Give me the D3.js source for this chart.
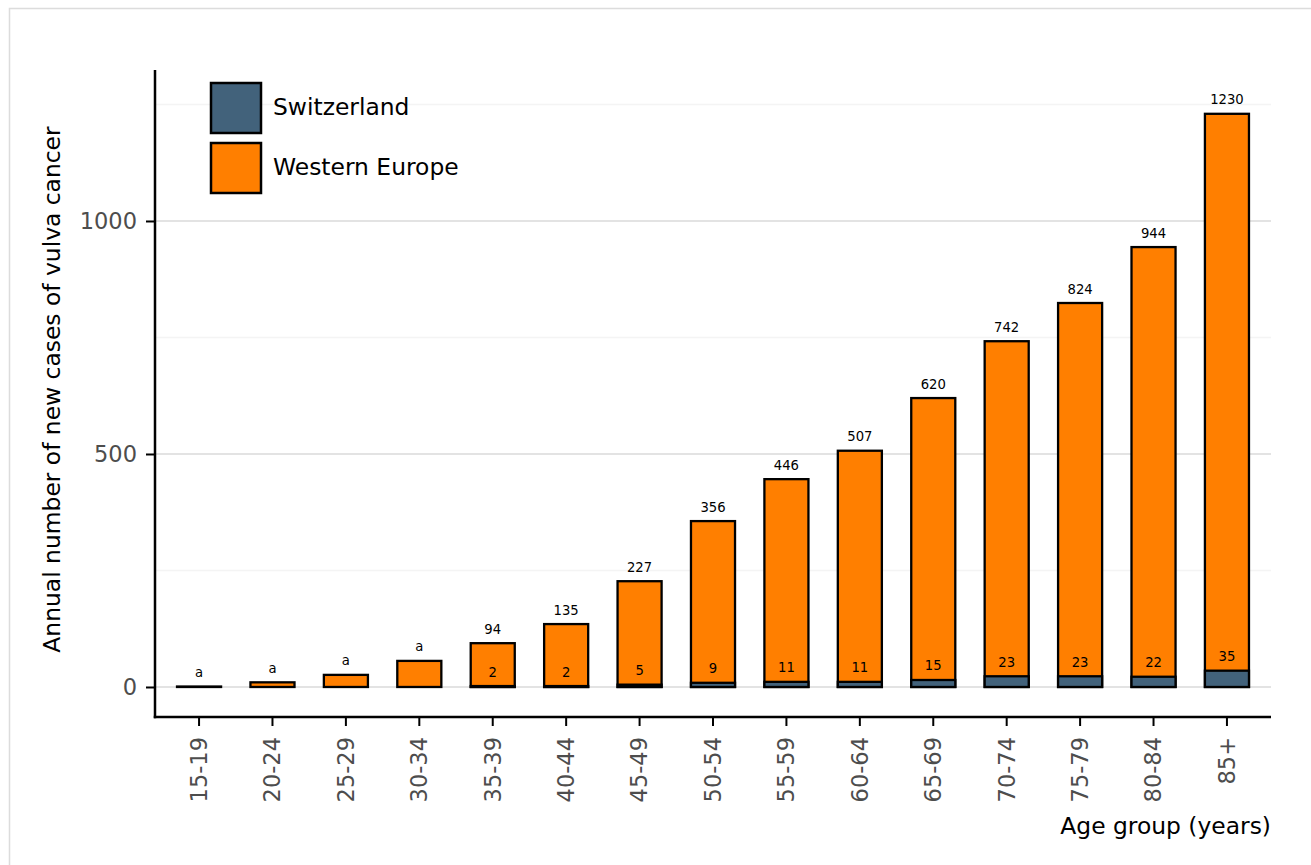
<!DOCTYPE html>
<html>
<head>
<meta charset="utf-8">
<script src="https://cdn.jsdelivr.net/npm/d3@7"></script>
<style>
  body { margin: 0; background: #fff; }
  svg text { font-family: "DejaVu Sans", sans-serif; }
</style>
</head>
<body>
<div id="container"></div>
<script>
// data
var ageGroups = ['15-19', '20-24', '25-29', '30-34', '35-39', '40-44', '45-49', '50-54',
                 '55-59', '60-64', '65-69', '70-74', '75-79', '80-84', '85+'];
var westernEurope = [1, 10, 26, 56, 94, 135, 227, 356, 446, 507, 620, 742, 824, 944, 1230];
var switzerland = [0, 0, 0, 0, 2, 2, 5, 9, 11, 11, 15, 23, 23, 22, 35];
// labels shown above the bars ("a" where the count is suppressed)
var weLabels = ['a', 'a', 'a', 'a', '94', '135', '227', '356', '446', '507', '620', '742', '824', '944', '1230'];
var chLabels = ['', '', '', '', '2', '2', '5', '9', '11', '11', '15', '23', '23', '22', '35'];
var yTicks = [0, 500, 1000];
var yMinorTicks = [250, 750, 1250];
var seriesNames = ['Switzerland', 'Western Europe'];
var seriesColors = ['#42627b', '#ff7f00'];

var W = 1311, H = 865;
var svg = d3.select('#container').append('svg')
  .attr('width', W)
  .attr('height', H);

// light page frame
svg.append('rect')
  .attr('x', 9.5).attr('y', 8.5)
  .attr('width', W + 10).attr('height', H + 10)
  .attr('fill', 'none')
  .attr('stroke', '#dcdcdc')
  .attr('stroke-width', 1.5);

var plot = { left: 155, right: 1271, top: 70, bottom: 717 };

var x = d3.scaleBand()
  .domain(ageGroups)
  .range([plot.left, plot.right])
  .paddingInner(0.4)
  .paddingOuter(0.3);

var y = d3.scaleLinear()
  .domain([-64.4, 1324])
  .range([plot.bottom, plot.top]);

// grid lines
svg.append('g').selectAll('line')
  .data(yMinorTicks)
  .enter().append('line')
    .attr('x1', plot.left).attr('x2', plot.right)
    .attr('y1', function(d) { return y(d); })
    .attr('y2', function(d) { return y(d); })
    .attr('stroke', '#f4f4f4')
    .attr('stroke-width', 1.5);

svg.append('g').selectAll('line')
  .data(yTicks)
  .enter().append('line')
    .attr('x1', plot.left).attr('x2', plot.right)
    .attr('y1', function(d) { return y(d); })
    .attr('y2', function(d) { return y(d); })
    .attr('stroke', '#e3e3e3')
    .attr('stroke-width', 2);

// western europe bars (behind)
var bars = svg.append('g');
bars.selectAll('rect.we')
  .data(westernEurope)
  .enter().append('rect')
    .attr('class', 'we')
    .attr('x', function(d, i) { return x(ageGroups[i]); })
    .attr('width', x.bandwidth())
    .attr('y', function(d) { return y(d); })
    .attr('height', function(d) { return y(0) - y(d); })
    .attr('fill', seriesColors[1])
    .attr('stroke', '#000')
    .attr('stroke-width', 2.3);

// switzerland bars (in front)
bars.selectAll('rect.ch')
  .data(switzerland)
  .enter().append('rect')
    .attr('class', 'ch')
    .attr('x', function(d, i) { return x(ageGroups[i]); })
    .attr('width', x.bandwidth())
    .attr('y', function(d) { return y(d); })
    .attr('height', function(d) { return y(0) - y(d); })
    .attr('fill', seriesColors[0])
    .attr('stroke', '#000')
    .attr('stroke-width', 2.3);

// value labels
var labels = svg.append('g')
  .attr('font-size', 13.2)
  .attr('text-anchor', 'middle')
  .attr('fill', '#000');

labels.selectAll('text.we')
  .data(westernEurope)
  .enter().append('text')
    .attr('class', 'we')
    .attr('x', function(d, i) { return x(ageGroups[i]) + x.bandwidth() / 2; })
    .attr('y', function(d) { return y(d) - 9.5; })
    .text(function(d, i) { return weLabels[i]; });

labels.selectAll('text.ch')
  .data(switzerland)
  .enter().append('text')
    .attr('class', 'ch')
    .attr('x', function(d, i) { return x(ageGroups[i]) + x.bandwidth() / 2; })
    .attr('y', function(d) { return y(d) - 9.5; })
    .text(function(d, i) { return chLabels[i]; });

// axes
var xAxis = svg.append('g')
  .attr('transform', 'translate(0,' + plot.bottom + ')')
  .call(d3.axisBottom(x).tickSize(9).tickPadding(8));
xAxis.select('.domain').remove();
xAxis.selectAll('.tick line').attr('stroke', '#000').attr('stroke-width', 2);
xAxis.selectAll('.tick text')
  .attr('font-size', 22.5)
  .attr('fill', '#4d4d4d')
  .attr('font-family', '"DejaVu Sans", sans-serif')
  .attr('text-anchor', 'end')
  .attr('dy', '0.35em')
  .attr('transform', 'rotate(-90)')
  .attr('x', -20)
  .attr('y', 0);

var yAxis = svg.append('g')
  .attr('transform', 'translate(' + plot.left + ',0)')
  .call(d3.axisLeft(y).tickValues(yTicks).tickFormat(d3.format('d')).tickSize(9).tickPadding(9));
yAxis.select('.domain').remove();
yAxis.selectAll('.tick line').attr('stroke', '#000').attr('stroke-width', 2);
yAxis.selectAll('.tick text')
  .attr('font-size', 22.5)
  .attr('fill', '#4d4d4d')
  .attr('font-family', '"DejaVu Sans", sans-serif');

// axis lines
svg.append('line')
  .attr('x1', plot.left).attr('x2', plot.left)
  .attr('y1', plot.top).attr('y2', plot.bottom + 1.25)
  .attr('stroke', '#000').attr('stroke-width', 2.5);
svg.append('line')
  .attr('x1', plot.left - 1.25).attr('x2', plot.right)
  .attr('y1', plot.bottom).attr('y2', plot.bottom)
  .attr('stroke', '#000').attr('stroke-width', 2.5);

// axis titles
svg.append('text')
  .attr('x', plot.right)
  .attr('y', 834)
  .attr('text-anchor', 'end')
  .attr('font-size', 23.4)
  .attr('fill', '#000')
  .text('Age group (years)');

svg.append('text')
  .attr('transform', 'translate(60,' + (128 + 651) / 2 + ') rotate(-90)')
  .attr('text-anchor', 'middle')
  .attr('font-size', 23.4)
  .attr('fill', '#000')
  .text('Annual number of new cases of vulva cancer');

// legend
var legend = svg.append('g').attr('transform', 'translate(211,83)');
var items = legend.selectAll('g')
  .data(seriesNames)
  .enter().append('g')
    .attr('transform', function(d, i) { return 'translate(0,' + i * 60 + ')'; });
items.append('rect')
  .attr('width', 50).attr('height', 50)
  .attr('fill', function(d, i) { return seriesColors[i]; })
  .attr('stroke', '#000')
  .attr('stroke-width', 2.5);
items.append('text')
  .attr('x', 62)
  .attr('y', 32)
  .attr('font-size', 23.4)
  .attr('fill', '#000')
  .text(function(d) { return d; });
</script>
</body>
</html>
